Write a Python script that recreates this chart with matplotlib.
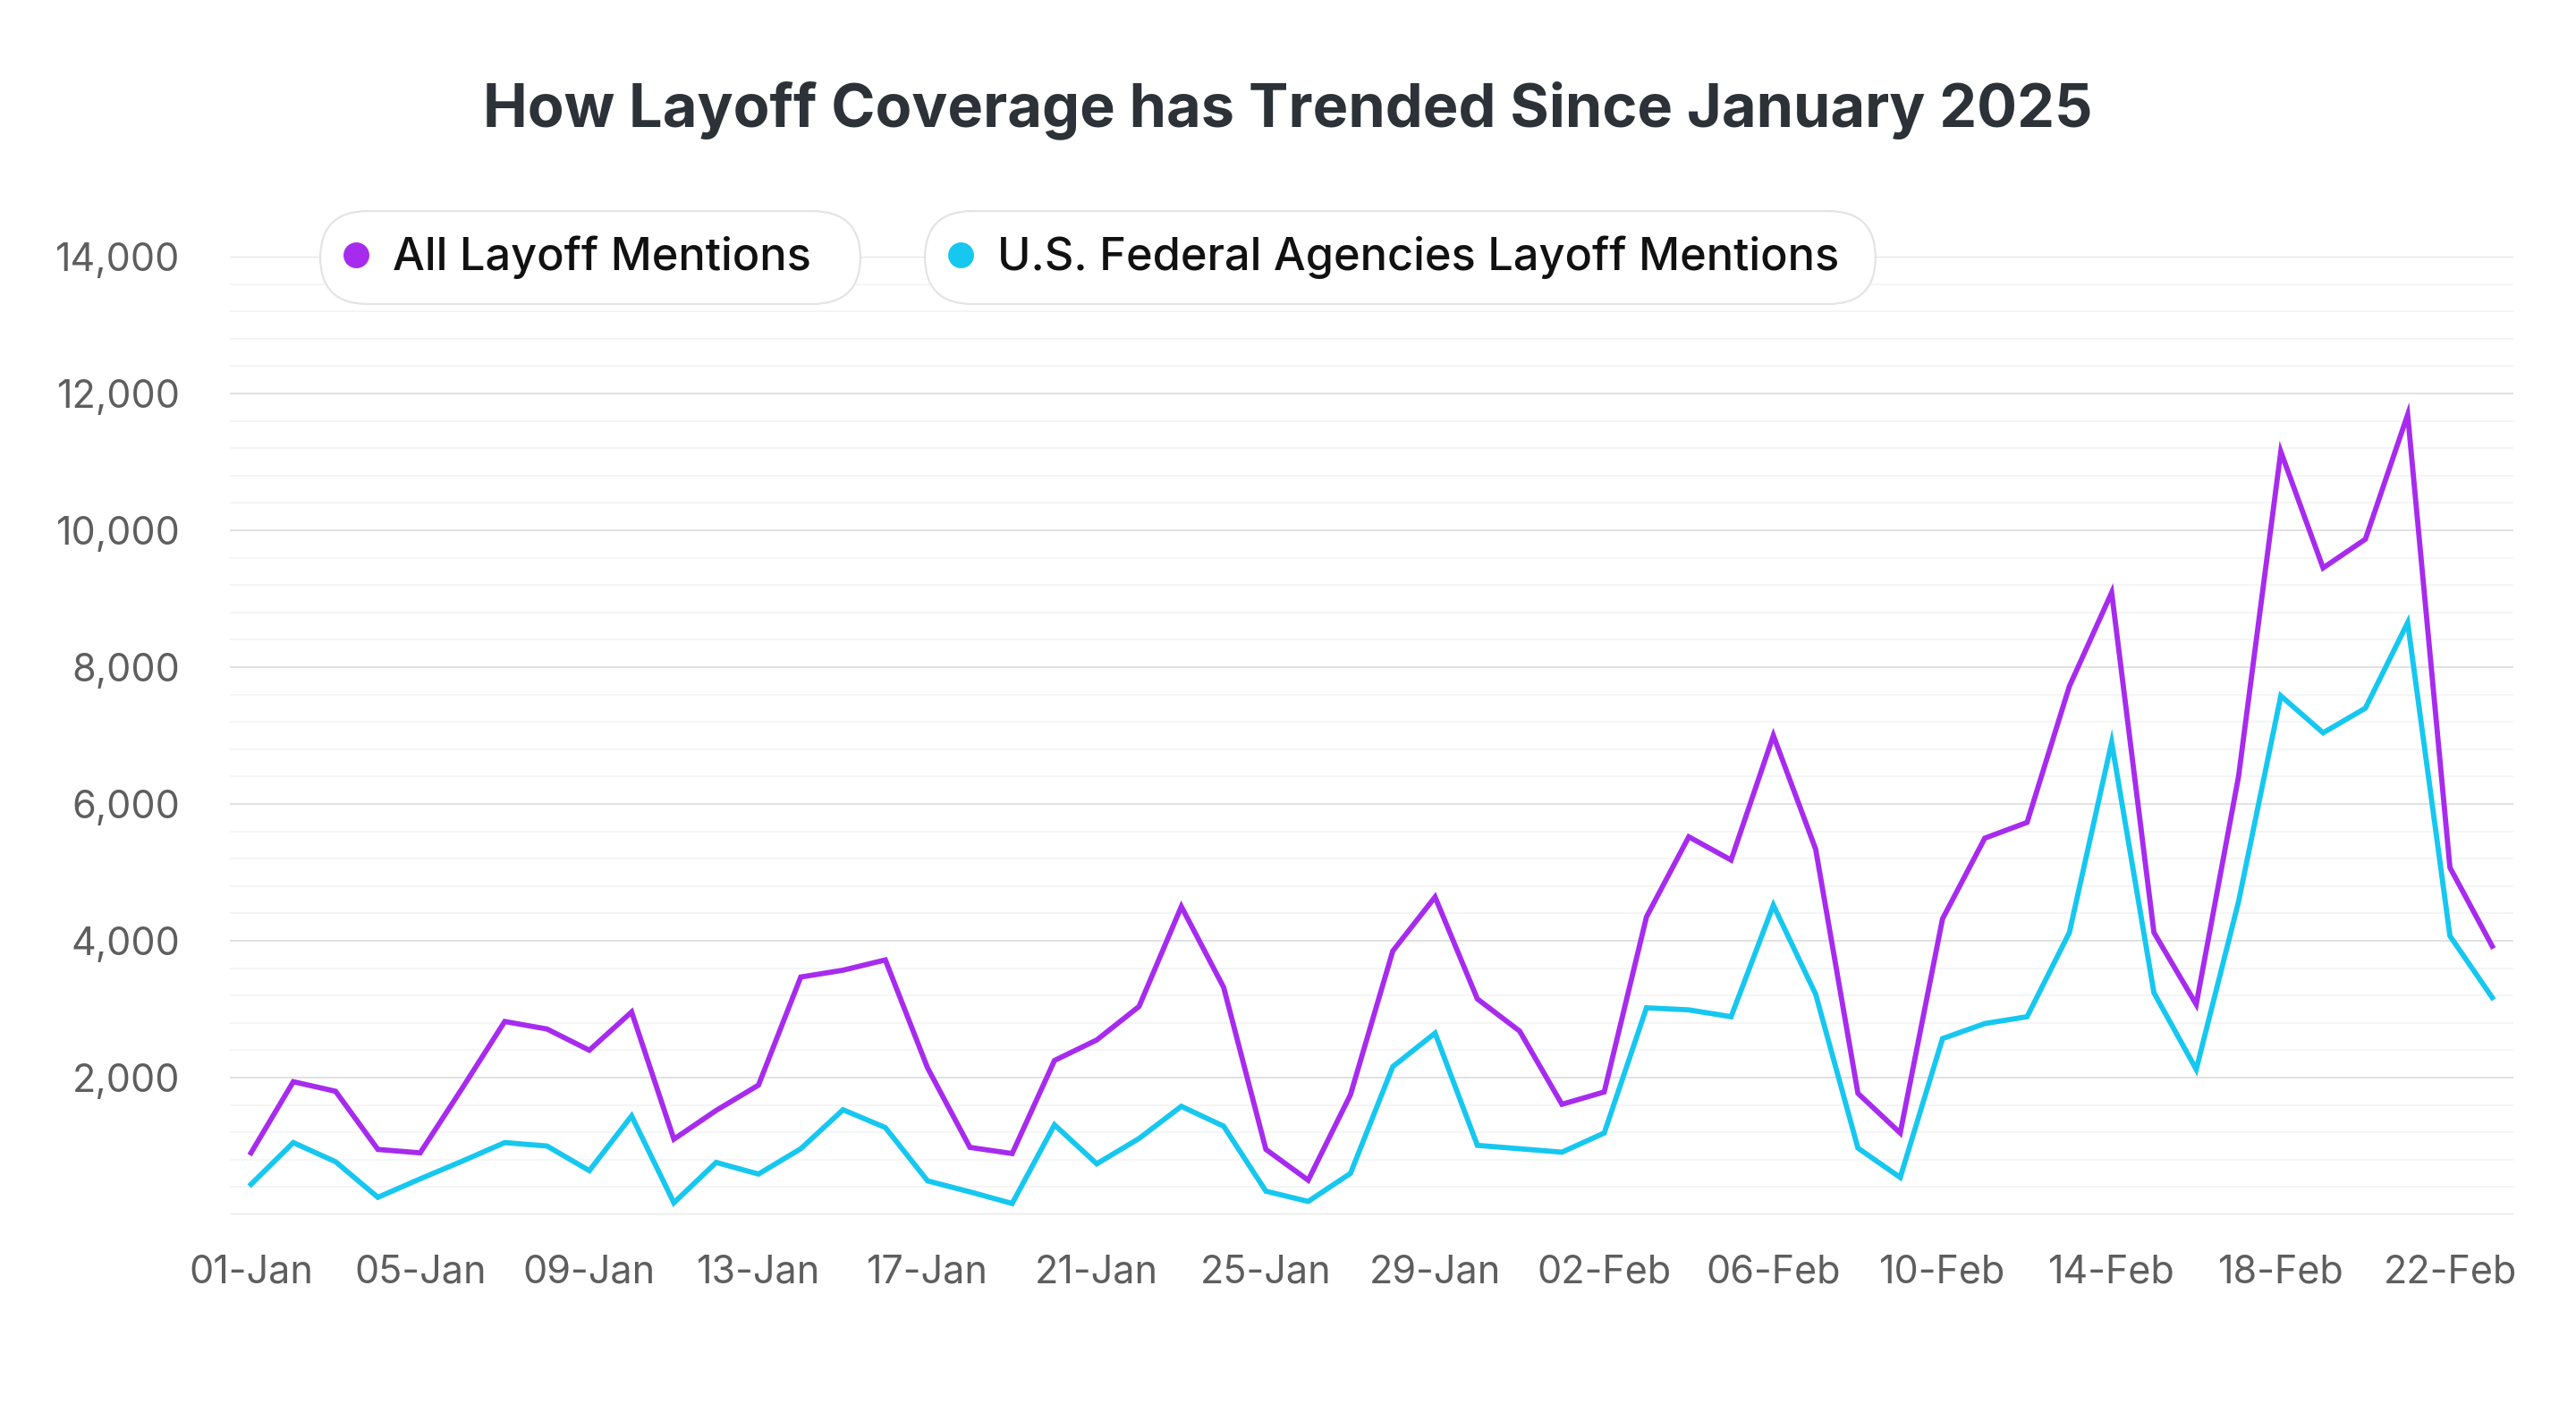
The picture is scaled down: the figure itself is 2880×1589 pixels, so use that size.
import matplotlib
matplotlib.use("Agg")
import matplotlib.pyplot as plt
import numpy as np
import pandas as pd
from matplotlib.lines import Line2D
from matplotlib.ticker import MultipleLocator, FuncFormatter

plt.rcParams['font.family'] = ['Inter', 'DejaVu Sans']

dates = pd.date_range("2025-01-01", "2025-02-23", freq="D")
day_labels = [d.strftime("%d-%b") for d in dates]

all_mentions = [
    900, 1940, 1800, 950, 900, 1850, 2820, 2710, 2400, 2960,
    1100, 1520, 1890, 3470, 3570, 3720, 2140, 980, 890, 2250,
    2550, 3040, 4500, 3320, 950, 500, 1750, 3850, 4640, 3150,
    2680, 1610, 1790, 4350, 5520, 5180, 7000, 5340, 1770, 1190,
    4320, 5500, 5730, 7720, 9090, 4120, 3070, 6400, 11150, 9450,
    9870, 11690, 5070, 3920,
]
federal_mentions = [
    440, 1050, 770, 250, 520, 780, 1050, 1000, 640, 1440,
    170, 760, 590, 960, 1530, 1270, 490, 330, 160, 1310,
    740, 1110, 1580, 1290, 340, 190, 600, 2160, 2650, 1010,
    960, 910, 1190, 3020, 2990, 2890, 4520, 3220, 970, 540,
    2570, 2790, 2890, 4120, 6900, 3240, 2120, 4570, 7580, 7040,
    7400, 8650, 4070, 3170,
]

PURPLE = "#a72bef"
CYAN = "#16c7f0"

fig = plt.figure(figsize=(14.4, 7.945), dpi=200)
ax = fig.add_axes([257 / 2880, 1 - 1358 / 1589, (2810 - 257) / 2880, (1358 - 287) / 1589])

x = np.arange(len(dates))
ax.plot(x, all_mentions, color=PURPLE, lw=2.1, solid_joinstyle="miter", zorder=3)
ax.plot(x, federal_mentions, color=CYAN, lw=2.1, solid_joinstyle="miter", zorder=3)

ax.set_xlim(-0.5, len(dates) - 0.5)
ax.set_ylim(0, 14000)

ax.yaxis.set_major_locator(MultipleLocator(2000))
ax.yaxis.set_minor_locator(MultipleLocator(400))
ax.yaxis.set_major_formatter(FuncFormatter(lambda v, p: "" if v == 0 else f"{int(v):,}"))
ax.grid(which="major", axis="y", color="#e2e2e2", lw=0.7)
ax.grid(which="minor", axis="y", color="#f3f3f3", lw=0.6)
ax.set_axisbelow(True)

tick_pos = x[::4]
ax.set_xticks(tick_pos)
ax.set_xticklabels([day_labels[i] for i in tick_pos])

for s in ax.spines.values():
    s.set_visible(False)
ax.tick_params(which="both", length=0)
ax.tick_params(axis="x", pad=16, labelsize=15.5, labelcolor="#5e5e5e")
ax.tick_params(axis="y", pad=20, labelsize=15.5, labelcolor="#5e5e5e")

fig.text(0.5, 1 - 123 / 1589, "How Layoff Coverage has Trended Since January 2025",
         ha="center", va="center", fontsize=24, fontweight="bold", color="#2c3238")

# two separate pill legends
entries = [("All Layoff Mentions  ", PURPLE, 358), ("U.S. Federal Agencies Layoff Mentions ", CYAN, 1034)]
for label, color, left in entries:
    h = Line2D([0], [0], marker="o", color=color, linestyle="none", markersize=9.4)
    leg = fig.legend(handles=[h], labels=[label], loc="center left",
                     bbox_to_anchor=(left / 2880, 1 - 288 / 1589),
                     prop={"size": 18.2, "weight": "medium"},
                     frameon=True, handlelength=0.5, handletextpad=0.55,
                     borderpad=0.55, borderaxespad=0, fancybox=True, framealpha=1,
                     edgecolor="#e4e4e4", facecolor="white")
    leg.get_frame().set_boxstyle("round", pad=0, rounding_size=1.05)
    leg.get_frame().set_linewidth(0.8)
    leg.get_texts()[0].set_color("#111111")

fig.savefig("out.png", dpi=200, facecolor="white")
